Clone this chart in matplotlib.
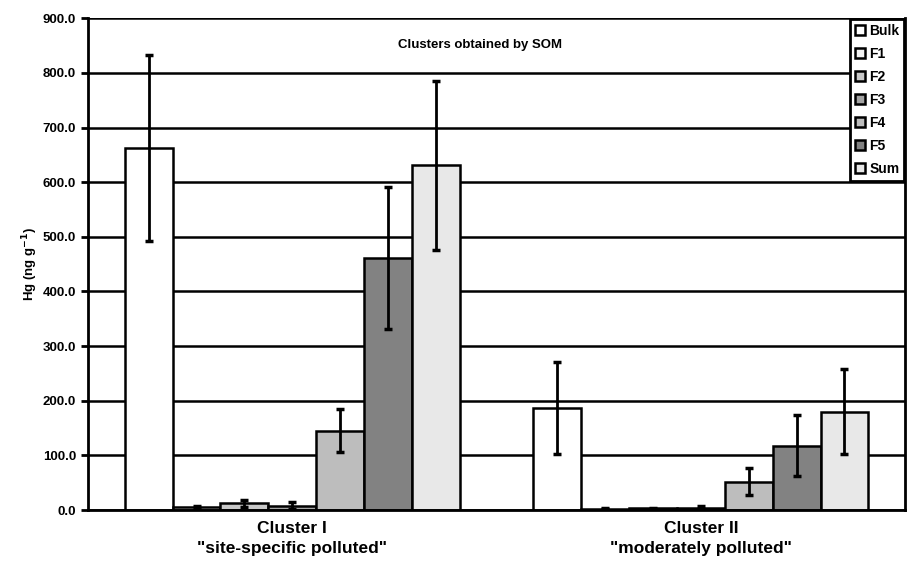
import numpy as np
import matplotlib.pyplot as plt

# Hg fractions per SOM cluster (ng/g), mean and error
clusters = ['Cluster I\n"site-specific polluted"', 'Cluster II\n"moderately polluted"']
fractions = ["Bulk", "F1", "F2", "F3", "F4", "F5", "Sum"]
means_c1 = [662, 6, 12, 8, 145, 461, 631]
errs_c1 = [170, 2, 7, 6, 39, 130, 155]
means_c2 = [186, 2, 3, 4, 52, 118, 180]
errs_c2 = [84, 1, 1, 3, 25, 55, 78]
y_ticks = [0, 100, 200, 300, 400, 500, 600, 700, 800, 900]

colors = ["#ffffff", "#f4f4f4", "#c8c8c8", "#a4a4a4", "#bdbdbd", "#828282", "#e8e8e8"]

plt.rcParams["font.family"] = ["Liberation Sans", "DejaVu Sans"]
plt.rcParams["font.weight"] = "bold"

fig = plt.figure(figsize=(9.07, 5.64), dpi=100)
ax = fig.add_axes([0.097, 0.0957, 0.901, 0.872])

x = np.arange(len(clusters))
n = len(fractions)
width = 0.82 / n
means = np.array([means_c1, means_c2])
errs = np.array([errs_c1, errs_c2])

for i, name in enumerate(fractions):
    pos = x - 0.41 + width * (i + 0.5)
    ax.bar(pos, means[:, i], width, color=colors[i], edgecolor="black",
           linewidth=1.8, label=name, zorder=2)
    ax.errorbar(pos, means[:, i], yerr=errs[:, i], fmt="none", ecolor="black",
                elinewidth=2, capsize=3, capthick=2.5, zorder=3)

ax.set_xlim(-0.5, 1.5)
ax.set_ylim(0, 900)
ax.set_yticks(y_ticks)
ax.set_yticklabels([f"{v:.1f}" for v in y_ticks], fontsize=9.5, fontweight="bold")
ax.set_xticks(x)
ax.set_xticklabels(clusters, fontsize=12.5, fontweight="bold", linespacing=1.4)
ax.tick_params(axis="x", length=0, pad=8)
ax.tick_params(axis="y", length=5, width=2, direction="out")

ax.yaxis.grid(True, color="black", linewidth=1.8, zorder=0)
ax.set_axisbelow(True)
for side in ["left", "bottom", "right"]:
    ax.spines[side].set_linewidth(2)
ax.spines["top"].set_visible(False)

ax.set_ylabel("Hg (ng g$^{\\mathbf{-1}}$)", fontsize=9.5, fontweight="bold", labelpad=2)
ax.text(0.48, 0.945, "Clusters obtained by SOM", transform=ax.transAxes,
        ha="center", va="center", fontsize=9.5, fontweight="bold")

leg = ax.legend(loc="upper right", bbox_to_anchor=(1.0, 1.0), fontsize=10,
                handlelength=0.75, handleheight=0.75, handletextpad=0.3,
                labelspacing=0.65, borderpad=0.35, fancybox=False,
                framealpha=1, edgecolor="black", borderaxespad=0.05)
leg.get_frame().set_linewidth(2)

fig.savefig("out.png", dpi=100)
